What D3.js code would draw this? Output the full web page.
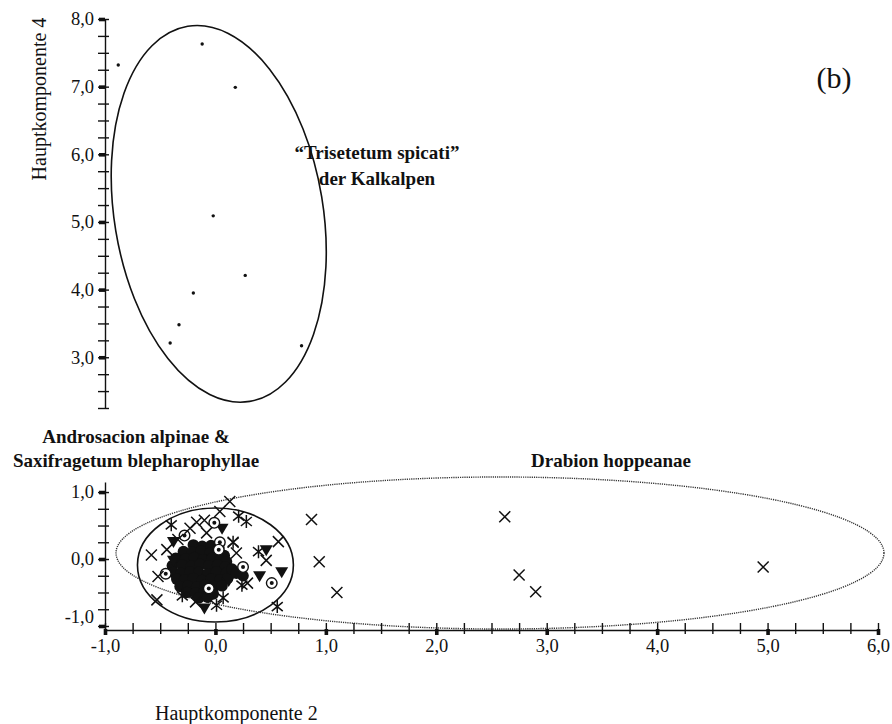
<!DOCTYPE html>
<html lang="de">
<head>
<meta charset="UTF-8">
<title>Hauptkomponenten 2 / 4 (b)</title>
<script src="https://d3js.org/d3.v7.min.js"></script>
<style>
    body { margin: 0; background: #fff; }
    svg { display: block; font-family: 'Liberation Serif', 'Times New Roman', serif; }
    .axis path, .axis line { stroke: #111; stroke-width: 1.4; }
    .axis text { font-size: 18.5px; fill: #111; font-family: 'Liberation Serif', serif; }
    .group-label { font-size: 19px; font-weight: bold; fill: #111; }
    .axis-title { font-size: 20px; fill: #111; }
    .mark { stroke: #111; stroke-width: 1.5; fill: none; }
    .filled { fill: #111; stroke: none; }
</style>
</head>
<body>
<svg width="892" height="724"></svg>
<script>
    // upper panel: Hauptkomponente 2 vs 4 (Trisetetum spicati)
    const trisetetum = [
        [-0.88, 7.32], [-0.12, 7.63], [0.18, 6.99], [-0.02, 5.09], [0.27, 4.21],
        [-0.20, 3.95], [-0.33, 3.48], [-0.41, 3.21], [0.78, 3.17]
    ];

    // lower panel, by marker type
    const crosses = [
        [0.13, 0.86], [0.04, 0.71], [-0.17, 0.55], [-0.10, 0.58], [-0.23, 0.46], [-0.08, 0.39],
        [-0.34, 0.29], [-0.44, 0.14], [-0.58, 0.06], [0.57, 0.26], [0.19, 0.09], [0.16, 0.25],
        [0.46, -0.02], [-0.52, -0.26], [-0.53, -0.61], [-0.18, -0.64], [0.29, -0.36],
        [0.87, 0.59], [0.94, -0.04], [1.10, -0.50],
        [2.62, 0.63], [2.75, -0.24], [2.90, -0.49], [4.96, -0.12]
    ];
    const stars = [
        [0.21, 0.64], [0.28, 0.56], [-0.40, 0.51], [0.16, 0.25], [0.39, 0.11],
        [0.24, -0.39], [0.01, -0.69], [0.56, -0.71], [0.07, -0.58], [-0.30, -0.55]
    ];
    const bullseyes = [
        [-0.01, 0.54], [-0.28, 0.35], [0.04, 0.25], [0.03, 0.14], [0.25, -0.12],
        [0.51, -0.36], [-0.45, -0.22], [-0.06, -0.44]
    ];
    const triangles = [
        [0.06, 0.46], [-0.38, 0.26], [0.46, 0.14], [0.60, -0.19], [0.40, -0.25],
        [-0.10, -0.73], [-0.38, -0.02], [0.12, -0.32]
    ];
    const dots = [
        [-0.20, 0.21], [-0.12, 0.19], [-0.04, 0.20], [0.03, 0.17],
        [-0.29, 0.11], [-0.21, 0.10], [-0.13, 0.12], [-0.05, 0.09], [0.02, 0.08], [0.08, 0.05],
        [-0.36, 0.01], [-0.27, 0.00], [-0.19, 0.02], [-0.11, -0.01], [-0.03, 0.01], [0.04, -0.02], [0.10, -0.04],
        [-0.39, -0.10], [-0.30, -0.09], [-0.22, -0.11], [-0.14, -0.08], [-0.06, -0.10], [0.02, -0.09], [0.09, -0.12],
        [-0.38, -0.20], [-0.31, -0.21], [-0.23, -0.19], [-0.15, -0.20], [-0.07, -0.22], [0.01, -0.19], [0.10, -0.21],
        [-0.35, -0.30], [-0.28, -0.31], [-0.20, -0.29], [-0.12, -0.32], [-0.04, -0.30], [0.04, -0.31], [0.11, -0.29],
        [-0.32, -0.41], [-0.25, -0.40], [-0.17, -0.42], [-0.09, -0.39], [-0.01, -0.41], [0.06, -0.40],
        [-0.26, -0.50], [-0.18, -0.51], [-0.10, -0.49], [-0.02, -0.52],
        [-0.15, -0.58], [-0.07, -0.57],
        [0.15, -0.15], [0.25, -0.25], [0.19, -0.21]
    ];

    // group ellipses: centre, semi-axes (data units), tilt in degrees
    const ellipses = [
        { panel: "top", cx: 0.03, cy: 5.12, rx: 0.945, ry: 2.81, tilt: -9.4, dotted: false },
        { panel: "bottom", cx: 0.0, cy: -0.09, rx: 0.706, ry: 0.851, tilt: 0, dotted: false },
        { panel: "bottom", cx: 2.577, cy: 0.09, rx: 3.477, ry: 1.135, tilt: 0, dotted: true }
    ];

    const xTickLabels = [-1, 0, 1, 2, 3, 4, 5, 6];
    const yTopTickLabels = [3, 4, 5, 6, 7, 8];
    const yBottomTickLabels = [-1, 0, 1];

    const svg = d3.select("svg");
    const x = d3.scaleLinear().domain([-1, 6]).range([105, 878]);
    const yTop = d3.scaleLinear().domain([2.25, 8]).range([408, 19]);
    const yBot = d3.scaleLinear().domain([-1.06, 1.15]).range([630, 482]);

    const comma = d => d3.format(".1f")(d).replace(".", ",").replace("\u2212", "-");
    const quarter = (lo, hi) => d3.range(lo * 4, hi * 4 + 1).map(v => v / 4);

    // ellipses
    ellipses.forEach(e => {
        const ys = e.panel === "top" ? yTop : yBot;
        svg.append("ellipse")
            .attr("transform", `translate(${x(e.cx)},${ys(e.cy)}) rotate(${e.tilt})`)
            .attr("rx", x(e.cx + e.rx) - x(e.cx))
            .attr("ry", ys(e.cy) - ys(e.cy + e.ry))
            .attr("fill", "none")
            .attr("stroke", e.dotted ? "#333" : "#111")
            .attr("stroke-width", e.dotted ? 1.4 : 1.6)
            .attr("stroke-dasharray", e.dotted ? "1.2,1" : null);
    });

    // axes: ticks cross the axis line, integer ticks get a small bold block
    function styleTicks(g, majors, vertical) {
        g.selectAll(".tick line")
            .attr(vertical ? "x2" : "y2", vertical ? -7 : 4)
            .attr(vertical ? "x1" : "y1", vertical ? 4 : -7);
        g.selectAll(".tick").filter(d => majors.includes(d))
            .append("rect")
            .attr("x", vertical ? -6 : -1.8)
            .attr("y", vertical ? -1.8 : -1)
            .attr("width", vertical ? 6 : 3.6)
            .attr("height", vertical ? 3.6 : 6)
            .attr("fill", "#111");
    }

    const gTop = svg.append("g").attr("class", "axis").attr("transform", `translate(${x(-1)},0)`)
        .call(d3.axisLeft(yTop).tickValues(quarter(2.25, 8)).tickSizeInner(7).tickSizeOuter(0).tickPadding(4)
            .tickFormat(d => yTopTickLabels.includes(d) ? comma(d) : ""));
    styleTicks(gTop, yTopTickLabels, true);

    const gBot = svg.append("g").attr("class", "axis").attr("transform", `translate(${x(-1)},0)`)
        .call(d3.axisLeft(yBot).tickValues(quarter(-1, 1)).tickSizeInner(7).tickSizeOuter(0).tickPadding(4)
            .tickFormat(d => yBottomTickLabels.includes(d) ? comma(d) : ""));
    styleTicks(gBot, yBottomTickLabels, true);
    gBot.selectAll(".tick text").filter(d => d === -1).attr("y", -9);

    const gX = svg.append("g").attr("class", "axis").attr("transform", `translate(0,${yBot(-1.06)})`)
        .call(d3.axisBottom(x).tickValues(quarter(-1, 6)).tickSizeInner(6).tickSizeOuter(0).tickPadding(3)
            .tickFormat(d => xTickLabels.includes(d) ? comma(d) : ""));
    styleTicks(gX, xTickLabels, false);

    // markers
    svg.append("g").selectAll("circle").data(trisetetum).join("circle")
        .attr("cx", d => x(d[0])).attr("cy", d => yTop(d[1])).attr("r", 1.7).attr("fill", "#111");

    const lower = svg.append("g");
    lower.selectAll(".dot").data(dots).join("circle").attr("class", "dot filled")
        .attr("cx", d => x(d[0])).attr("cy", d => yBot(d[1])).attr("r", 5.8);

    lower.selectAll(".tri").data(triangles).join("path").attr("class", "tri filled")
        .attr("transform", d => `translate(${x(d[0])},${yBot(d[1])})`)
        .attr("d", "M-6.5,-4.5L6.5,-4.5L0,6.5Z");

    const bull = lower.selectAll(".bull").data(bullseyes).join("g").attr("class", "bull")
        .attr("transform", d => `translate(${x(d[0])},${yBot(d[1])})`);
    bull.append("circle").attr("r", 5.3).attr("fill", "#fff").attr("stroke", "#111").attr("stroke-width", 1.4);
    bull.append("circle").attr("r", 2).attr("fill", "#111");

    lower.selectAll(".cross").data(crosses).join("path").attr("class", "cross mark")
        .attr("transform", d => `translate(${x(d[0])},${yBot(d[1])})`)
        .attr("d", "M-5.5,-5.5L5.5,5.5M-5.5,5.5L5.5,-5.5");

    lower.selectAll(".star").data(stars).join("path").attr("class", "star mark")
        .attr("transform", d => `translate(${x(d[0])},${yBot(d[1])})`)
        .attr("d", "M-5.5,-4.5L5.5,4.5M-5.5,4.5L5.5,-4.5M0,-6.5L0,6.5");

    // labels
    svg.append("text").attr("class", "axis-title")
        .attr("transform", "translate(46,99) rotate(-90)").attr("text-anchor", "middle")
        .text("Hauptkomponente 4");
    svg.append("text").attr("class", "axis-title").attr("x", 155).attr("y", 720)
        .text("Hauptkomponente 2");
    svg.append("text").attr("x", 834).attr("y", 88).attr("text-anchor", "middle")
        .style("font-size", "30px").attr("fill", "#111").text("(b)");

    const groupLabels = [
        { t: "\u201CTrisetetum spicati\u201D", x: 377, y: 159 },
        { t: "der Kalkalpen", x: 377, y: 185 },
        { t: "Androsacion alpinae &", x: 136, y: 443 },
        { t: "Saxifragetum blepharophyllae", x: 136, y: 467 },
        { t: "Drabion hoppeanae", x: 611, y: 467 }
    ];
    svg.append("g").selectAll("text").data(groupLabels).join("text")
        .attr("class", "group-label").attr("text-anchor", "middle")
        .attr("x", d => d.x).attr("y", d => d.y).text(d => d.t);
</script>
</body>
</html>
